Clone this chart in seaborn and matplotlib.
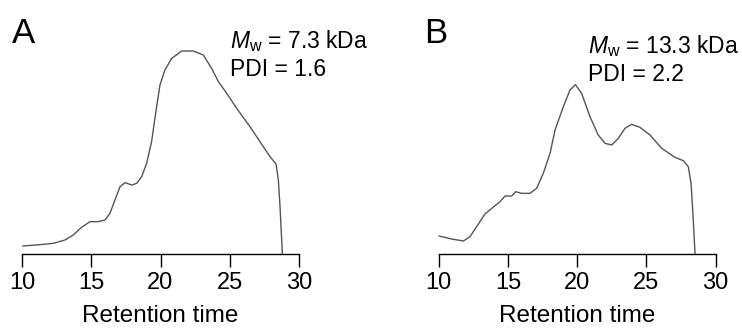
import numpy as np
import pandas as pd
import seaborn as sns
import matplotlib
matplotlib.use("Agg")
import matplotlib.pyplot as plt

# GPC traces (retention time, detector signal in arbitrary units)
time_a = [10.05, 11.3, 12.26, 13.1, 13.7, 14.3, 14.91, 15.51, 15.99, 16.35, 16.71, 17.08,
          17.44, 17.92, 18.28, 18.64, 19.0, 19.36, 19.66, 19.96, 20.32, 20.81, 21.53, 22.37,
          23.09, 23.69, 24.18, 24.78, 25.5, 26.46, 27.42, 27.91, 28.34, 28.51, 28.63, 28.75, 28.8]
signal_a = [24, 28, 32, 42, 57, 80, 97, 97, 102, 122, 162, 202,
            214, 207, 212, 232, 272, 338, 425, 507, 552, 587, 609, 609,
            597, 557, 517, 482, 437, 382, 322, 292, 270, 222, 142, 42, 0]

time_b = [10.02, 10.94, 11.78, 12.26, 12.74, 13.34, 13.83, 14.43, 14.79, 15.27, 15.56, 15.99,
          16.59, 17.07, 17.55, 18.04, 18.4, 19.0, 19.48, 19.87, 20.32, 20.92, 21.52, 22.01,
          22.49, 22.97, 23.45, 23.93, 24.53, 25.26, 26.1, 27.06, 27.66, 28.02, 28.22, 28.34, 28.51]
signal_b = [54, 45, 39, 52, 82, 120, 137, 157, 174, 174, 187, 182,
            182, 197, 242, 302, 372, 442, 492, 508, 482, 412, 357, 332,
            327, 347, 377, 389, 380, 357, 317, 290, 280, 262, 212, 132, 0]

xticks = [10, 15, 20, 25, 30]
panel_labels = ["A", "B"]
mw_values = ["7.3", "13.3"]
pdi_values = ["1.6", "2.2"]

sns.set_style("white")
plt.rcParams['font.family'] = ['Liberation Sans', 'DejaVu Sans']
plt.rcParams['mathtext.fontset'] = 'custom'
plt.rcParams['mathtext.rm'] = 'Liberation Sans'
plt.rcParams['mathtext.it'] = 'Liberation Sans:italic'
plt.rcParams['text.color'] = 'black'
plt.rcParams['axes.labelcolor'] = 'black'
plt.rcParams['xtick.color'] = 'black'
plt.rcParams['xtick.labelcolor'] = 'black'

fig = plt.figure(figsize=(7.42, 3.29), dpi=100)
W, H = 742, 329

traces = [(time_a, signal_a), (time_b, signal_b)]
lefts = [22, 438.7]
text_pos = [(230, 48), (588, 53)]
label_pos = [(12, 43), (424, 43)]

for i, (t, s) in enumerate(traces):
    ax = fig.add_axes([lefts[i] / W, (H - 254) / H, 277 / W, 254 / H])
    df = pd.DataFrame({"time": t, "signal": s})
    sns.lineplot(data=df, x="time", y="signal", ax=ax, color="#555555", linewidth=1.0,
                 sort=False, clip_on=False, solid_joinstyle="round")
    ax.set_xlim(10, 30)
    ax.set_ylim(0, 762)
    ax.set_xticks(xticks)
    ax.set_yticks([])
    for sp in ["left", "right", "top"]:
        ax.spines[sp].set_visible(False)
    ax.spines["bottom"].set_color("black")
    ax.spines["bottom"].set_linewidth(1.0)
    ax.tick_params(axis="x", direction="out", length=9, width=1.0, color="black",
                   labelcolor="black", labelsize=17, pad=4, bottom=True)
    ax.set_xlabel("Retention time", fontsize=17.5, labelpad=8, color="black")
    ax.set_ylabel("")
    ax.patch.set_alpha(0)

    tx, ty = text_pos[i]
    fig.text(tx / W, 1 - ty / H, r"$\mathit{M}_\mathrm{w}$ = " + mw_values[i] + " kDa",
             fontsize=16.5, ha="left", va="baseline", color="black")
    fig.text(tx / W, 1 - (ty + 28) / H, "PDI = " + pdi_values[i],
             fontsize=16.5, ha="left", va="baseline", color="black")
    lx, ly = label_pos[i]
    fig.text(lx / W, 1 - ly / H, panel_labels[i], fontsize=25, ha="left", va="baseline",
             color="black")

fig.savefig("out.png", dpi=100)
